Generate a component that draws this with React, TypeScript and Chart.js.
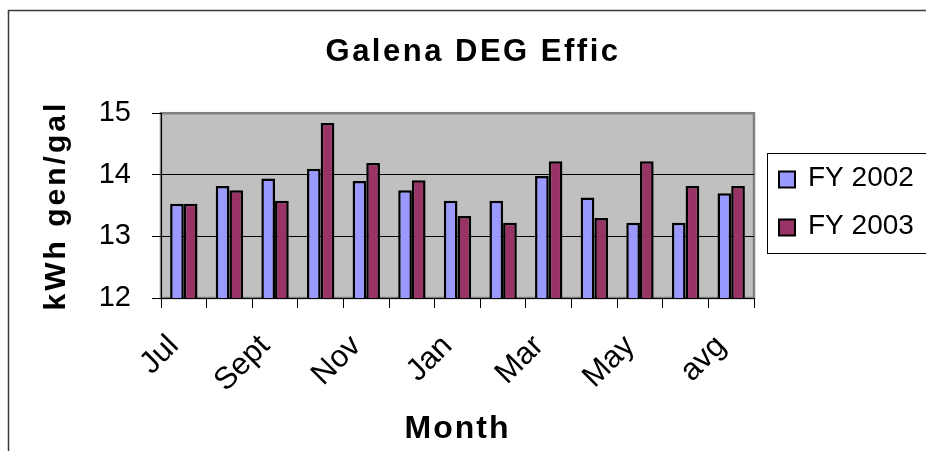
import { useEffect, useRef } from 'react';
import { Chart, registerables } from 'chart.js';

Chart.register(...registerables);

const MONTHS = ['Jul', 'Aug', 'Sept', 'Oct', 'Nov', 'Dec', 'Jan', 'Feb', 'Mar', 'Apr', 'May', 'Jun', 'avg'];
const FY2002 = [13.53, 13.82, 13.94, 14.1, 13.9, 13.75, 13.58, 13.58, 13.98, 13.63, 13.22, 13.22, 13.7];
const FY2003 = [13.53, 13.75, 13.58, 14.84, 14.19, 13.91, 13.33, 13.22, 14.22, 13.3, 14.22, 13.82, 13.82];
const SERIES = ['FY 2002', 'FY 2003'];
const Y_MIN = 12;
const Y_MAX = 15;
const Y_GRID = [13, 14];

const FONT = "'Liberation Sans', Arial, Helvetica, sans-serif";

function withSpacing(fn: any, spacing: string) {
  return function (this: any, ...args: any[]) {
    const ctx = this.ctx as any;
    const prev = ctx.letterSpacing;
    ctx.letterSpacing = spacing;
    try {
      return fn.apply(this, args);
    } finally {
      ctx.letterSpacing = prev || '0px';
    }
  };
}

const decor = {
  id: 'decor',
  beforeDraw(chart: any) {
    const { ctx, chartArea: a } = chart;
    ctx.save();
    ctx.fillStyle = '#ffffff';
    ctx.fillRect(0, 0, chart.width, chart.height);
    ctx.strokeStyle = '#3a3a3a';
    ctx.lineWidth = 1.5;
    ctx.strokeRect(8.5, 10.5, chart.width + 40, chart.height + 40);
    ctx.fillStyle = '#C0C0C0';
    ctx.fillRect(a.left, a.top, a.right - a.left, a.bottom - a.top);
    ctx.strokeStyle = '#808080';
    ctx.lineWidth = 2.5;
    ctx.strokeRect(a.left, a.top, a.right - a.left, a.bottom - a.top);
    ctx.restore();

    if (chart.titleBlock && !chart.titleBlock.__sp) {
      chart.titleBlock.draw = withSpacing(chart.titleBlock.draw, '2.5px');
      chart.titleBlock.__sp = true;
    }
    const sy = chart.scales.y;
    if (sy && !sy.__sp) {
      sy.drawTitle = withSpacing(sy.drawTitle, '3px');
      sy.__sp = true;
    }
    const sx = chart.scales.x;
    if (sx && !sx.__sp) {
      sx.drawTitle = withSpacing(sx.drawTitle, '2px');
      sx.__sp = true;
    }
  },
  afterDraw(chart: any) {
    const { ctx, chartArea: a } = chart;
    const bx = a.right + 13;
    const by = 153.5;
    ctx.save();
    ctx.strokeStyle = '#000';
    ctx.lineWidth = 1;
    ctx.strokeRect(bx + 0.5, by, 400, 100);
    ctx.font = `28px ${FONT}`;
    ctx.textBaseline = 'middle';
    ctx.textAlign = 'left';
    chart.data.datasets.forEach((ds: any, i: number) => {
      const cy = 179.5 + i * 48;
      ctx.fillStyle = ds.backgroundColor;
      ctx.fillRect(bx + 12, cy - 8, 16, 16);
      ctx.strokeStyle = '#000';
      ctx.lineWidth = 2;
      ctx.strokeRect(bx + 12, cy - 8, 16, 16);
      ctx.fillStyle = '#000';
      ctx.fillText(ds.label, bx + 41, cy - 1);
    });
    ctx.restore();
  },
};

export default function App() {
  const ref = useRef<HTMLCanvasElement>(null);
  useEffect(() => {
    const chart = new Chart(ref.current as HTMLCanvasElement, {
      type: 'bar',
      data: {
        labels: MONTHS,
        datasets: [
          {
            label: SERIES[0],
            data: FY2002,
            backgroundColor: '#9999FF',
            borderColor: '#000000',
            borderWidth: 2.5,
            borderSkipped: false,
            categoryPercentage: 0.6,
            barPercentage: 1.0,
          },
          {
            label: SERIES[1],
            data: FY2003,
            backgroundColor: '#993366',
            borderColor: '#000000',
            borderWidth: 2.5,
            borderSkipped: false,
            categoryPercentage: 0.6,
            barPercentage: 1.0,
          },
        ],
      },
      options: {
        responsive: false,
        devicePixelRatio: 1,
        animation: false,
        events: [],
        layout: { padding: { left: 20, right: 0, top: 0, bottom: 0 } },
        plugins: {
          legend: { display: false },
          tooltip: { enabled: false },
          title: {
            display: true,
            text: 'Galena DEG Effic',
            color: '#000',
            font: { family: FONT, size: 31, weight: 'bold', lineHeight: 1.2 },
            padding: { top: 34, bottom: 42 },
          },
        },
        scales: {
          x: {
            type: 'category',
            position: 'bottom',
            grid: {
              offset: true,
              drawOnChartArea: false,
              drawTicks: true,
              tickLength: 10,
              color: '#000',
              tickColor: '#000',
            },
            border: { display: true, color: '#000', width: 1 },
            ticks: {
              autoSkip: false,
              maxRotation: 45,
              minRotation: 45,
              padding: 20,
              labelOffset: -10,
              color: '#000',
              font: { family: FONT, size: 31 },
              callback: (_v: any, i: number) => (i % 2 === 0 ? MONTHS[i] : ''),
            },
            title: {
              display: true,
              text: 'Month',
              color: '#000',
              font: { family: FONT, size: 32, weight: 'bold', lineHeight: 1.2 },
              padding: { top: 0, bottom: 3 },
            },
            afterFit: (s: any) => {
              s.height = 153;
            },
          },
          y: {
            type: 'linear',
            position: 'left',
            min: Y_MIN,
            max: Y_MAX,
            ticks: {
              stepSize: 1,
              padding: 21,
              color: '#000',
              font: { family: FONT, size: 29 },
            },
            grid: {
              drawTicks: true,
              tickLength: 9,
              lineWidth: 1,
              color: (c: any) =>
                c.tick && Y_GRID.includes(c.tick.value) ? '#000' : 'rgba(0,0,0,0)',
              tickColor: '#000',
            },
            border: { display: true, color: '#000', width: 1 },
            title: {
              display: true,
              text: 'kWh gen/gal',
              color: '#000',
              font: { family: FONT, size: 30, weight: 'bold', lineHeight: 1.2 },
              padding: { top: 19, bottom: 0 },
            },
            afterFit: (s: any) => {
              s.width = 141;
            },
          },
          pad: {
            type: 'linear',
            position: 'right',
            display: true,
            grid: { display: false, drawTicks: false },
            border: { display: false },
            ticks: { display: false },
            afterFit: (s: any) => {
              s.width = 172;
            },
          },
        },
      } as any,
      plugins: [decor],
    });
    return () => chart.destroy();
  }, []);

  return (
    <div style={{ position: 'fixed', left: 0, top: 0, width: 926, height: 451, background: '#fff' }}>
      <canvas ref={ref} width={926} height={451} style={{ display: 'block', width: 926, height: 451 }} />
    </div>
  );
}
